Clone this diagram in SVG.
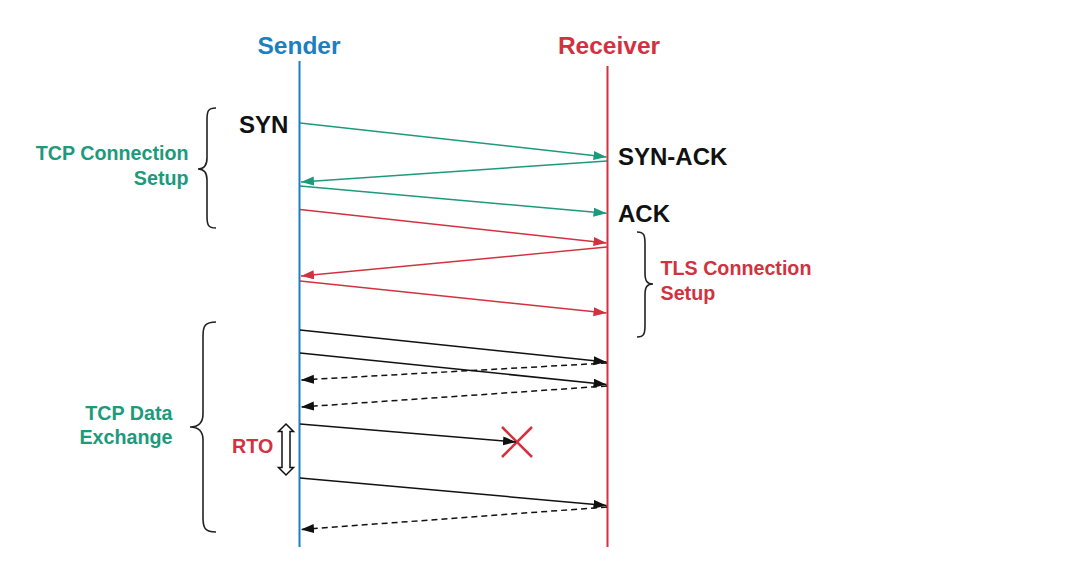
<svg xmlns="http://www.w3.org/2000/svg" width="1068" height="578" viewBox="0 0 1068 578">
<style>
text{font-family:"Liberation Sans",Arial,sans-serif;font-weight:bold}
.hdr{font-size:24.5px}
.lbl{font-size:24px;fill:#111}
.grp{font-size:19.7px}
.teal{fill:#1c9a7c}
.red{fill:#d2323f}
.blue{fill:#1c7fc0}
.brace{fill:none;stroke:#222;stroke-width:1.6}
.ct{stroke:#1c9a7c;stroke-width:1.5;fill:none}
.cr{stroke:#d2323f;stroke-width:1.5;fill:none}
.ck{stroke:#111;stroke-width:1.5;fill:none}
.dash{stroke-dasharray:6 4}
</style>
<defs>
<marker id="at" markerUnits="userSpaceOnUse" markerWidth="14" markerHeight="10" refX="13" refY="4.5" orient="auto"><path d="M0,0 L13,4.5 L0,9 z" fill="#1c9a7c"/></marker>
<marker id="ar" markerUnits="userSpaceOnUse" markerWidth="14" markerHeight="10" refX="13" refY="4.5" orient="auto"><path d="M0,0 L13,4.5 L0,9 z" fill="#d2323f"/></marker>
<marker id="ak" markerUnits="userSpaceOnUse" markerWidth="14" markerHeight="10" refX="13" refY="4.5" orient="auto"><path d="M0,0 L13,4.5 L0,9 z" fill="#111"/></marker>
</defs>
<rect width="1068" height="578" fill="#fff"/>

<g id="sender">
<text class="hdr blue" x="299" y="54" text-anchor="middle">Sender</text>
<line x1="299.5" y1="61" x2="299.5" y2="547" stroke="#1c7fc0" stroke-width="2"/>
</g>
<g id="receiver">
<text class="hdr red" x="609" y="54" text-anchor="middle">Receiver</text>
<line x1="607.5" y1="66" x2="607.5" y2="547" stroke="#d2323f" stroke-width="2"/>
</g>

<g id="labels">
<text class="lbl" x="239" y="132.5">SYN</text>
<text class="lbl" x="618" y="165">SYN-ACK</text>
<text class="lbl" x="618" y="221.5">ACK</text>
</g>

<g id="tcp-setup">
<path class="brace" d="M216,108 C208,108 207,111 207,120 L207,158 C207,166 204,169 198,169 C204,169 207,172 207,180 L207,216 C207,225 208,228 216,228"/>
<text class="grp teal" x="188.5" y="160" text-anchor="end">TCP Connection</text>
<text class="grp teal" x="188.5" y="185" text-anchor="end">Setup</text>
</g>

<g id="tls-setup">
<path class="brace" d="M637,232 C644,232 645,235 645,244 L645,273 C645,281 647,284 653,284 C647,284 645,287 645,295 L645,325 C645,334 644,337 637,337"/>
<text class="grp red" x="660.5" y="275">TLS Connection</text>
<text class="grp red" x="660.5" y="300">Setup</text>
</g>

<g id="tcp-data">
<path class="brace" d="M216,322 C205,322 203,326 203,336 L203,414 C203,423 199,427 190,427 C199,427 203,431 203,440 L203,518 C203,528 205,532 216,532"/>
<text class="grp teal" x="172.5" y="420" text-anchor="end">TCP Data</text>
<text class="grp teal" x="172.5" y="444" text-anchor="end">Exchange</text>
</g>

<g id="rto">
<text class="grp red" x="232" y="452.5">RTO</text>
<polygon points="286,424 293.5,431.5 290,431.5 290,467.5 293.5,467.5 286,475 278.5,467.5 282,467.5 282,431.5 278.5,431.5" fill="#fff" stroke="#111" stroke-width="1.5" stroke-linejoin="miter"/>
</g>

<g id="loss">
<line x1="502" y1="427" x2="532" y2="457" stroke="#d2323f" stroke-width="2.5"/>
<line x1="532" y1="427" x2="502" y2="457" stroke="#d2323f" stroke-width="2.5"/>
</g>

<g id="connectors">
<line class="ct" x1="300" y1="123" x2="606.5" y2="157" marker-end="url(#at)"/>
<line class="ct" x1="607" y1="161" x2="301" y2="182" marker-end="url(#at)"/>
<line class="ct" x1="300" y1="186" x2="606.5" y2="213.3" marker-end="url(#at)"/>
<line class="cr" x1="300" y1="209.5" x2="606.5" y2="243" marker-end="url(#ar)"/>
<line class="cr" x1="607" y1="247" x2="301" y2="276" marker-end="url(#ar)"/>
<line class="cr" x1="300" y1="281" x2="606.5" y2="313" marker-end="url(#ar)"/>
<line class="ck" x1="300" y1="330" x2="606.5" y2="362" marker-end="url(#ak)"/>
<line class="ck" x1="300" y1="353" x2="606.5" y2="384.5" marker-end="url(#ak)"/>
<line class="ck dash" x1="607" y1="363" x2="301" y2="380" marker-end="url(#ak)"/>
<line class="ck dash" x1="607" y1="386" x2="301" y2="407" marker-end="url(#ak)"/>
<line class="ck" x1="300" y1="424" x2="516" y2="442" marker-end="url(#ak)"/>
<line class="ck" x1="300" y1="478" x2="606.5" y2="505.5" marker-end="url(#ak)"/>
<line class="ck dash" x1="607" y1="507" x2="301" y2="529.5" marker-end="url(#ak)"/>
</g>
</svg>
